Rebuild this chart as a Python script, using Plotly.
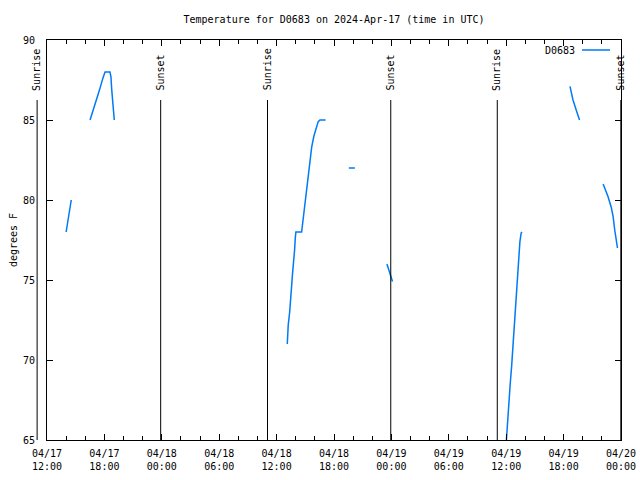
import pandas as pd
import plotly.graph_objects as go

# ---------------- data ----------------
station = "D0683"
x_start = "2024-04-17 12:00"
x_end = "2024-04-20 00:00"

times = [
    "2024-04-17 14:00", "2024-04-17 14:10", "2024-04-17 14:20", "2024-04-17 14:32", None,
    "2024-04-17 16:30", "2024-04-17 16:50", "2024-04-17 17:10", "2024-04-17 17:30", "2024-04-17 17:50",
    "2024-04-17 18:04", "2024-04-17 18:35", "2024-04-17 18:41", "2024-04-17 18:46", "2024-04-17 18:52",
    "2024-04-17 18:58", "2024-04-17 19:02", None,
    "2024-04-18 13:07", "2024-04-18 13:13", "2024-04-18 13:22", "2024-04-18 13:30", "2024-04-18 13:34",
    "2024-04-18 13:40", "2024-04-18 13:47", "2024-04-18 13:53", "2024-04-18 13:57", "2024-04-18 14:01",
    "2024-04-18 14:37", "2024-04-18 14:43", "2024-04-18 14:52", "2024-04-18 14:59", "2024-04-18 15:08",
    "2024-04-18 15:19", "2024-04-18 15:29", "2024-04-18 15:40", "2024-04-18 15:54", "2024-04-18 16:07",
    "2024-04-18 16:21", "2024-04-18 16:32", "2024-04-18 17:07", None,
    "2024-04-18 19:33", "2024-04-18 20:11", None,
    "2024-04-18 23:32", "2024-04-18 23:44", "2024-04-18 23:55", "2024-04-19 00:07", None,
    "2024-04-19 12:00", "2024-04-19 12:10", "2024-04-19 12:19", "2024-04-19 12:25", "2024-04-19 12:34",
    "2024-04-19 12:40", "2024-04-19 12:46", "2024-04-19 12:52", "2024-04-19 12:59", "2024-04-19 13:05",
    "2024-04-19 13:11", "2024-04-19 13:17", "2024-04-19 13:26", "2024-04-19 13:34", "2024-04-19 13:40", None,
    "2024-04-19 18:40", "2024-04-19 18:59", "2024-04-19 19:20", "2024-04-19 19:40", None,
    "2024-04-19 22:08", "2024-04-19 22:39", "2024-04-19 23:00", "2024-04-19 23:10", "2024-04-19 23:21",
    "2024-04-19 23:32", "2024-04-19 23:38",
]
temps = [
    78.0, 78.7, 79.3, 80.0, None,
    85.0, 85.6, 86.3, 86.9, 87.6,
    88.0, 88.0, 87.7, 86.9, 86.2,
    85.4, 85.0, None,
    71.0, 72.2, 73.0, 73.8, 74.6,
    75.4, 76.1, 76.9, 77.6, 78.0,
    78.0, 78.5, 79.4, 80.0, 80.8,
    81.7, 82.5, 83.3, 84.0, 84.5,
    84.9, 85.0, 85.0, None,
    82.0, 82.0, None,
    76.0, 75.6, 75.3, 74.9, None,
    64.8, 66.5, 67.5, 68.5, 69.6,
    70.5, 71.6, 72.5, 73.5, 74.6,
    75.5, 76.6, 77.4, 77.95, 78.0, None,
    87.1, 86.25, 85.6, 85.0, None,
    81.0, 80.2, 79.5, 79.0, 78.1,
    77.3, 77.0,
]

sun_times = ["2024-04-17 10:58", "2024-04-17 23:53", "2024-04-18 11:03",
             "2024-04-18 23:56", "2024-04-19 11:04", "2024-04-19 23:59"]
sun_labels = ["Sunrise", "Sunset", "Sunrise", "Sunset", "Sunrise", "Sunset"]

y_range = [65, 90]
y_ticks = [65, 70, 75, 80, 85, 90]

# ---------------- figure ----------------
FONT = "DejaVu Sans Mono"
BLUE = "rgb(0,122,245)"
FIG_W, FIG_H = 640, 480

fig = go.Figure()
fig.add_trace(go.Scatter(
    x=times, y=temps, mode="lines", name=station,
    line=dict(color=BLUE, width=1.5), connectgaps=False, showlegend=False,
))

t0 = pd.Timestamp(x_start)
t1 = pd.Timestamp(x_end)
span = (t1 - t0).total_seconds()

for st, lab in zip(sun_times, sun_labels):
    frac = (pd.Timestamp(st) - t0).total_seconds() / span
    fig.add_shape(type="line", xref="x domain", yref="y domain",
                  x0=frac, x1=frac, y0=0, y1=0.85,
                  line=dict(color="black", width=1))
    fig.add_annotation(xref="x domain", yref="y domain", x=frac, y=0.868,
                       text=lab, textangle=-90, showarrow=False,
                       xanchor="center", yanchor="bottom",
                       font=dict(family=FONT, size=10, color="black"))

# gnuplot-style legend (text left of the line sample)
fig.add_annotation(xref="x domain", yref="y domain", x=0.923, y=0.975,
                   text=station, showarrow=False, xanchor="right", yanchor="middle",
                   font=dict(family=FONT, size=10, color="black"))
fig.add_shape(type="line", xref="x domain", yref="y domain",
              x0=0.932, x1=0.981, y0=0.975, y1=0.975,
              line=dict(color=BLUE, width=1.5))

two_h = 2 * 3600 * 1000
six_h = 6 * 3600 * 1000

fig.update_layout(
    width=FIG_W, height=FIG_H,
    margin=dict(l=47, r=19, t=40, b=40, autoexpand=False),
    paper_bgcolor="white", plot_bgcolor="white",
    font=dict(family=FONT, size=10, color="black"),
    title=dict(text=f"Temperature for {station} on 2024-Apr-17 (time in UTC)",
               xref="paper", x=0.5, xanchor="center",
               yref="container", y=1 - 19 / FIG_H, yanchor="middle",
               font=dict(family=FONT, size=10, color="black")),
    xaxis=dict(
        type="date", range=[x_start, x_end], automargin=False,
        tick0=x_start, dtick=six_h, tickformat="%m/%d<br>%H:%M",
        ticks="inside", ticklen=6, tickcolor="black",
        minor=dict(dtick=two_h, ticks="inside", ticklen=4, tickcolor="black", showgrid=False),
        showline=True, linecolor="black", linewidth=1, mirror="ticks",
        showgrid=False, zeroline=False, ticklabelstandoff=4,
        ticklabeloverflow="allow",
        tickfont=dict(family=FONT, size=10, color="black"),
    ),
    yaxis=dict(
        range=y_range, tickvals=y_ticks, automargin=False,
        ticks="inside", ticklen=6, tickcolor="black",
        showline=True, linecolor="black", linewidth=1, mirror="ticks",
        showgrid=False, zeroline=False,
        title=dict(text="degrees F", standoff=3, font=dict(family=FONT, size=10, color="black")),
        tickfont=dict(family=FONT, size=10, color="black"),
        ticklabelstandoff=9,
    ),
)

# remove the browser's default 8px body margin so the 640x480 figure fills the window
fig.write_html("out.html",
               config={"displayModeBar": False, "staticPlot": True},
               post_script="document.body.style.margin='0';document.body.style.overflow='hidden';")
